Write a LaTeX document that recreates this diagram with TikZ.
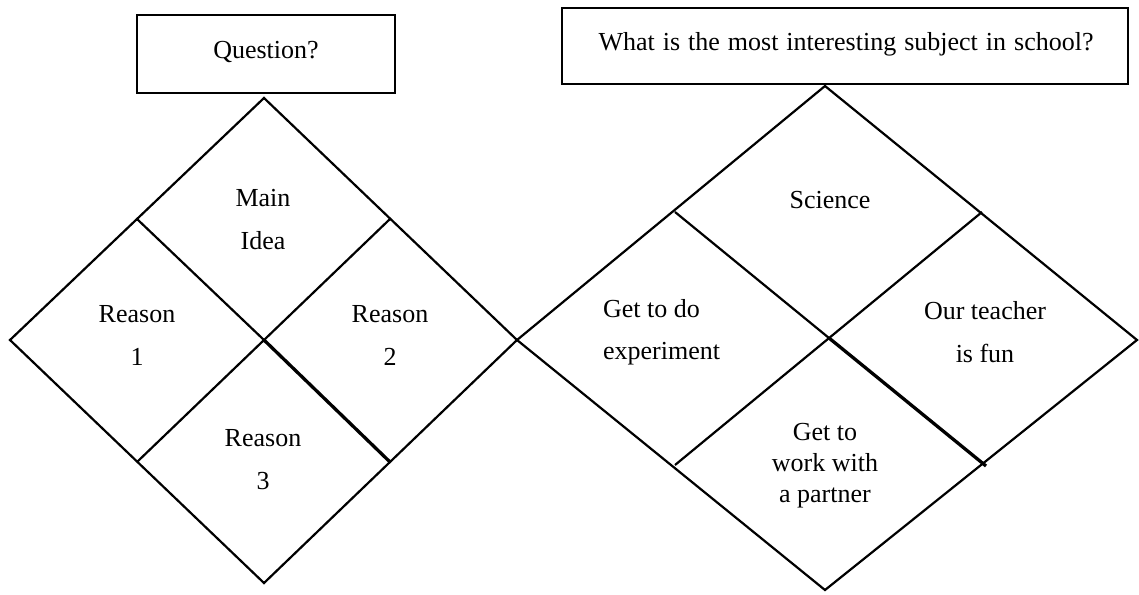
\documentclass[tikz,border=0pt]{standalone}
\usepackage{fontspec}
\setmainfont{Liberation Serif}
\newcommand\mystack[2]{\begin{tabular}[t]{@{}#1@{}}#2\end{tabular}}
\begin{document}
\begin{tikzpicture}[x=1pt,y=-1pt,line width=2.2pt,line join=miter,
  lbl/.style={font=\fontsize{26}{43}\selectfont,inner sep=0pt,anchor=base},
  lblleft/.style={font=\fontsize{26}{42}\selectfont,inner sep=0pt,anchor=base west},
  lbltight/.style={font=\fontsize{26}{31}\selectfont,inner sep=0pt,anchor=base},
  qbox/.style={draw,line width=1.9pt,inner sep=0pt},
  qtext/.style={font=\fontsize{26}{30}\selectfont,inner sep=0pt,anchor=base},
  heavy/.style={line width=3.3pt}]
\useasboundingbox (0,0) rectangle (1139,594);
% ---------- left ----------
\node[qbox,minimum width=258pt,minimum height=78pt] (q1) at (266,54) {};
\node[qtext] (q1t) at (266,59) {Question?};
\coordinate (T1) at (264,98);
\coordinate (L1) at (10,340);
\coordinate (R1) at (517,340);
\coordinate (B1) at (264,583);
\coordinate (C1) at (264,340);
\coordinate (TL1) at (137,219);
\coordinate (TR1) at (390,219);
\coordinate (BL1) at (137,462);
\coordinate (BR1) at (390,462);
\draw (T1) -- (R1) -- (B1) -- (L1) -- cycle;
\draw (TL1) -- (C1);
\draw[heavy] (C1) -- (BR1);
\draw (TR1) -- (BL1);
\node[lbl] (main) at (263,206) {\mystack{c}{Main\\Idea}};
\node[lbl] (r1) at (137,322) {\mystack{c}{Reason\\1}};
\node[lbl] (r2) at (390,322) {\mystack{c}{Reason\\2}};
\node[lbl] (r3) at (263,446) {\mystack{c}{Reason\\3}};
% ---------- right ----------
\node[qbox,minimum width=566pt,minimum height=76pt] (q2) at (845,46) {};
\node[qtext] (q2t) at (846,50) {\spaceskip=8pt What is the most interesting subject in school?};
\coordinate (T2) at (825,86);
\coordinate (L2) at (517,340);
\coordinate (R2) at (1137,340);
\coordinate (B2) at (825,590);
\coordinate (C2) at (829,338);
\coordinate (TL2) at (675,212);
\coordinate (TR2) at (982,212);
\coordinate (BL2) at (675,465);
\coordinate (BR2) at (986,466);
\draw (T2) -- (R2) -- (B2) -- (L2) -- cycle;
\draw (TL2) -- (C2);
\draw[heavy] (C2) -- (BR2);
\draw (TR2) -- (BL2);
\node[lbl] (sci) at (830,208) {Science};
\node[lblleft] (exp) at (602,317) {\mystack{l}{Get to do\\experiment}};
\node[lbl] (fun) at (985,319) {\mystack{c}{Our teacher\\is fun}};
\node[lbltight] (part) at (825,440) {\mystack{c}{Get to\\work with\\a partner}};
\end{tikzpicture}
\end{document}
